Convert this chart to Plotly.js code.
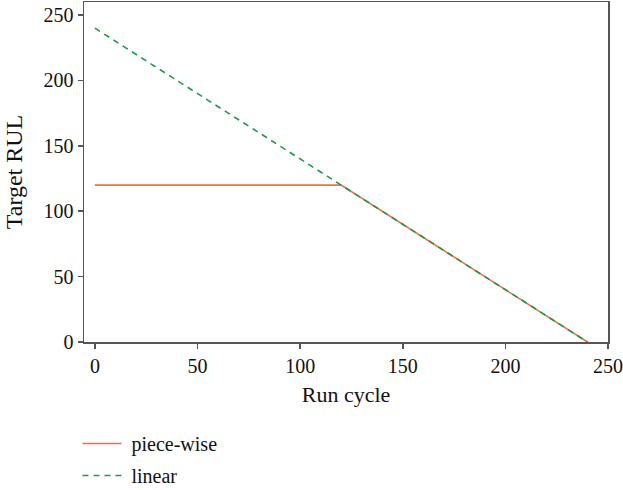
<!DOCTYPE html>
<html>
<head>
<meta charset="utf-8">
<script src="https://cdn.plot.ly/plotly-3.0.1.min.js"></script>
<style>html,body{margin:0;padding:0;background:#fff;}#chart{width:623px;height:490px;}</style>
</head>
<body>
<div id="chart"></div>
<script>
var pieceX = [0, 120, 240];
var pieceY = [120, 120, 0];
var linearX = [0, 240];
var linearY = [240, 0];
var xTicks = [0, 50, 100, 150, 200, 250];
var yTicks = [0, 50, 100, 150, 200, 250];

var font = 'Liberation Serif, Times New Roman, serif';
var traces = [
  {x: pieceX, y: pieceY, type: 'scatter', mode: 'lines', name: '\u00a0piece-wise',
   legendgroup: 'a', line: {color: '#f26b4a', width: 1.6}},
  {x: linearX, y: linearY, type: 'scatter', mode: 'lines', name: '\u00a0linear',
   legendgroup: 'b', line: {color: '#1a9a4a', width: 1.6, dash: '6px,5px'}}
];
var axisCommon = {
  showgrid: false, zeroline: false, showline: true, mirror: true,
  linecolor: '#555', linewidth: 1.5, ticks: 'outside', ticklen: 5,
  tickcolor: '#555', tickwidth: 1.5,
  tickfont: {family: font, size: 20, color: '#111'}
};
var layout = {
  width: 623, height: 490,
  margin: {l: 84, r: 15, t: 2, b: 148, autoexpand: false},
  paper_bgcolor: '#fff', plot_bgcolor: '#fff',
  showlegend: true,
  xaxis: Object.assign({}, axisCommon, {
    range: [-5.3, 250], tickvals: xTicks, ticktext: xTicks.map(String),
    title: {text: 'Run cycle', font: {family: font, size: 22, color: '#111'}, standoff: 11}
  }),
  yaxis: Object.assign({}, axisCommon, {
    range: [0, 260], tickvals: yTicks, ticktext: yTicks.map(String),
    title: {text: 'Target RUL', font: {family: font, size: 24, color: '#111'}, standoff: 14}
  }),
  legend: {x: -0.0124, y: -0.241, xanchor: 'left', yanchor: 'top',
    traceorder: 'grouped', tracegroupgap: 3, itemwidth: 39,
    font: {family: font, size: 20, color: '#111'}, bgcolor: 'rgba(0,0,0,0)'}
};
Plotly.newPlot('chart', traces, layout, {displayModeBar: false, staticPlot: true});
</script>
</body>
</html>
